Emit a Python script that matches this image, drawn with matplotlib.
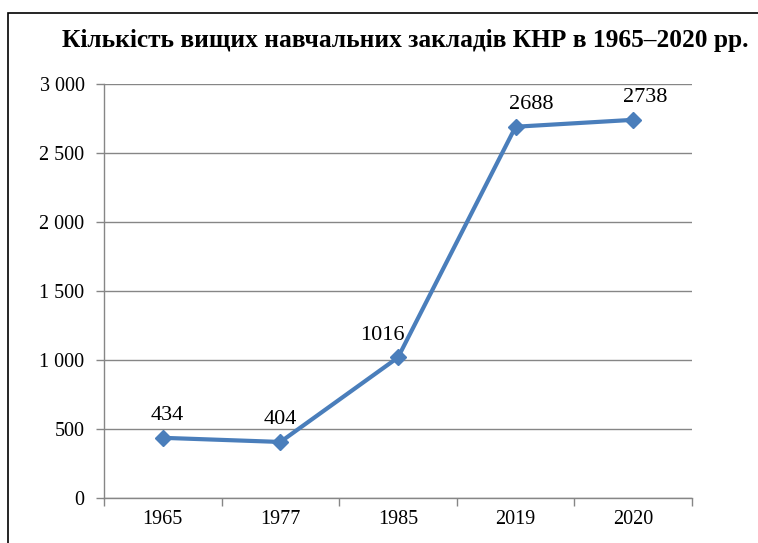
import matplotlib.pyplot as plt
from matplotlib.patches import Rectangle
from matplotlib.ticker import FuncFormatter, FixedLocator

years = ['1965', '1977', '1985', '2019', '2020']
counts = [434, 404, 1016, 2688, 2738]
# label shifts in px (x only), to match the hand-placed labels
label_dx = [4, 0, -16, 16, 12]

plt.rcParams['font.family'] = ['Liberation Serif', 'DejaVu Serif']

fig = plt.figure(figsize=(7.58, 5.43), dpi=100)
ax = fig.add_axes([0.1372, 0.0834, 0.7757, 0.7625])

x = list(range(len(years)))
ax.plot(x, counts, color='#4A7EBB', lw=3, marker='D', ms=8,
        markerfacecolor='#4A7EBB', markeredgecolor='#4A7EBB', zorder=3)

for xi, v, dx in zip(x, counts, label_dx):
    ax.annotate(str(v), (xi, v), xytext=(dx * 0.72, 16), textcoords='offset points',
                ha='center', va='center', fontsize=16)

ax.set_xlim(-0.5, len(years) - 0.5)
ax.set_ylim(0, 3000)
ax.set_yticks(range(0, 3001, 500))
ax.yaxis.set_major_formatter(FuncFormatter(lambda v, p: f'{int(v):,}'.replace(',', ' ')))
ax.set_xticks(x)
ax.set_xticklabels(years)
ax.xaxis.set_minor_locator(FixedLocator([i - 0.5 for i in range(len(years) + 1)]))
ax.tick_params(axis='x', which='major', length=0, pad=9, labelsize=14.5)
ax.tick_params(axis='x', which='minor', length=6, color='#868686', width=1)
ax.tick_params(axis='y', length=6, color='#868686', width=1, labelsize=14.5, pad=8)

ax.grid(axis='y', color='#868686', lw=1)
ax.set_axisbelow(True)
for s in ['top', 'right']:
    ax.spines[s].set_visible(False)
for s in ['left', 'bottom']:
    ax.spines[s].set_color('#868686')
    ax.spines[s].set_linewidth(1)

fig.text(0.534, 0.926, 'Кількість вищих навчальних закладів КНР в 1965–2020 рр.',
         ha='center', va='center', fontsize=18.3, fontweight='bold')

# frame around the chart (cut off at right/bottom in the original)
fig.patches.append(Rectangle((8 / 758, -0.1), 1.2, 1.1 - 13 / 543,
                             transform=fig.transFigure, fill=False,
                             edgecolor='black', lw=1.2))

fig.savefig('out.png', dpi=100)
